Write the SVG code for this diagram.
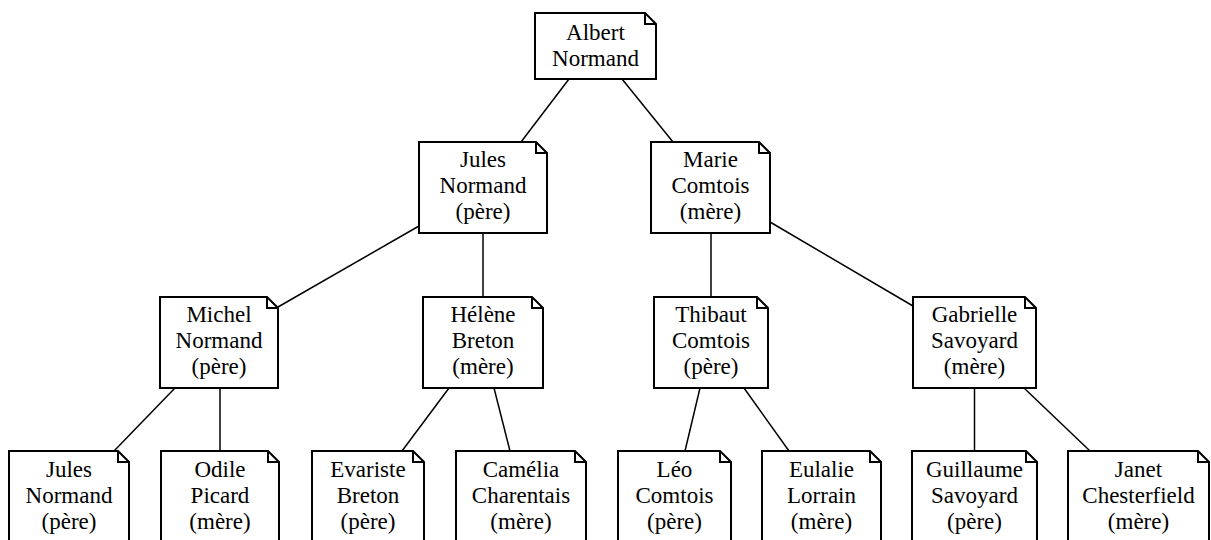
<svg xmlns="http://www.w3.org/2000/svg" width="1211" height="540" viewBox="0 0 1211 540">
<style>
.box{fill:#fff;stroke:#000;stroke-width:2;stroke-linejoin:miter}
.fold{fill:none;stroke:#000;stroke-width:2}
.edge{stroke:#000;stroke-width:1.5;fill:none}
text{font-family:"Liberation Serif","Times New Roman",serif;font-size:23px;text-anchor:middle;fill:#000}
</style>
<rect width="1211" height="540" fill="#fff"/>
<g id="connectors">
<line class="edge" x1="569" y1="79" x2="521" y2="142"/>
<line class="edge" x1="622" y1="79" x2="673" y2="142"/>
<line class="edge" x1="419" y1="226" x2="278" y2="307"/>
<line class="edge" x1="483" y1="233" x2="483" y2="297"/>
<line class="edge" x1="711" y1="233" x2="711" y2="297"/>
<line class="edge" x1="770" y1="222" x2="913" y2="306"/>
<line class="edge" x1="175" y1="388" x2="114" y2="451"/>
<line class="edge" x1="220" y1="388" x2="220" y2="451"/>
<line class="edge" x1="449" y1="388" x2="402" y2="451"/>
<line class="edge" x1="494" y1="388" x2="510" y2="451"/>
<line class="edge" x1="700" y1="388" x2="685" y2="451"/>
<line class="edge" x1="744" y1="388" x2="789" y2="451"/>
<line class="edge" x1="974.5" y1="388" x2="974.5" y2="451"/>
<line class="edge" x1="1024" y1="388" x2="1090" y2="451"/>
</g>
<g id="albert">
<path class="box" d="M535,13 H645 L656,24 V79 H535 Z"/>
<path class="fold" d="M645,13 V24 H656"/>
<text x="595.5" y="40">Albert</text>
<text x="595.5" y="66">Normand</text>
</g>
<g id="jules_pere">
<path class="box" d="M419,142 H536 L547,153 V233 H419 Z"/>
<path class="fold" d="M536,142 V153 H547"/>
<text x="483" y="167">Jules</text>
<text x="483" y="193">Normand</text>
<text x="483" y="219">(père)</text>
</g>
<g id="marie">
<path class="box" d="M651,142 H759 L770,153 V233 H651 Z"/>
<path class="fold" d="M759,142 V153 H770"/>
<text x="710.5" y="167">Marie</text>
<text x="710.5" y="193">Comtois</text>
<text x="710.5" y="219">(mère)</text>
</g>
<g id="michel">
<path class="box" d="M160,297 H267 L278,308 V388 H160 Z"/>
<path class="fold" d="M267,297 V308 H278"/>
<text x="219" y="322">Michel</text>
<text x="219" y="348">Normand</text>
<text x="219" y="374">(père)</text>
</g>
<g id="helene">
<path class="box" d="M423,297 H532 L543,308 V388 H423 Z"/>
<path class="fold" d="M532,297 V308 H543"/>
<text x="483" y="322">Hélène</text>
<text x="483" y="348">Breton</text>
<text x="483" y="374">(mère)</text>
</g>
<g id="thibaut">
<path class="box" d="M654,297 H757 L768,308 V388 H654 Z"/>
<path class="fold" d="M757,297 V308 H768"/>
<text x="711" y="322">Thibaut</text>
<text x="711" y="348">Comtois</text>
<text x="711" y="374">(père)</text>
</g>
<g id="gabrielle">
<path class="box" d="M913,297 H1025 L1036,308 V388 H913 Z"/>
<path class="fold" d="M1025,297 V308 H1036"/>
<text x="974.5" y="322">Gabrielle</text>
<text x="974.5" y="348">Savoyard</text>
<text x="974.5" y="374">(mère)</text>
</g>
<g id="jules_fils">
<path class="box" d="M9,451 H118 L129,462 V542 H9 Z"/>
<path class="fold" d="M118,451 V462 H129"/>
<text x="69" y="477">Jules</text>
<text x="69" y="503">Normand</text>
<text x="69" y="529">(père)</text>
</g>
<g id="odile">
<path class="box" d="M161,451 H268 L279,462 V542 H161 Z"/>
<path class="fold" d="M268,451 V462 H279"/>
<text x="220" y="477">Odile</text>
<text x="220" y="503">Picard</text>
<text x="220" y="529">(mère)</text>
</g>
<g id="evariste">
<path class="box" d="M312,451 H413 L424,462 V542 H312 Z"/>
<path class="fold" d="M413,451 V462 H424"/>
<text x="368" y="477">Evariste</text>
<text x="368" y="503">Breton</text>
<text x="368" y="529">(père)</text>
</g>
<g id="camelia">
<path class="box" d="M456,451 H575 L586,462 V542 H456 Z"/>
<path class="fold" d="M575,451 V462 H586"/>
<text x="521" y="477">Camélia</text>
<text x="521" y="503">Charentais</text>
<text x="521" y="529">(mère)</text>
</g>
<g id="leo">
<path class="box" d="M618,451 H720 L731,462 V542 H618 Z"/>
<path class="fold" d="M720,451 V462 H731"/>
<text x="674.5" y="477">Léo</text>
<text x="674.5" y="503">Comtois</text>
<text x="674.5" y="529">(père)</text>
</g>
<g id="eulalie">
<path class="box" d="M762,451 H870 L881,462 V542 H762 Z"/>
<path class="fold" d="M870,451 V462 H881"/>
<text x="821.5" y="477">Eulalie</text>
<text x="821.5" y="503">Lorrain</text>
<text x="821.5" y="529">(mère)</text>
</g>
<g id="guillaume">
<path class="box" d="M912,451 H1026 L1037,462 V542 H912 Z"/>
<path class="fold" d="M1026,451 V462 H1037"/>
<text x="974.5" y="477">Guillaume</text>
<text x="974.5" y="503">Savoyard</text>
<text x="974.5" y="529">(père)</text>
</g>
<g id="janet">
<path class="box" d="M1068,451 H1198 L1209,462 V542 H1068 Z"/>
<path class="fold" d="M1198,451 V462 H1209"/>
<text x="1138.5" y="477">Janet</text>
<text x="1138.5" y="503">Chesterfield</text>
<text x="1138.5" y="529">(mère)</text>
</g>
</svg>
